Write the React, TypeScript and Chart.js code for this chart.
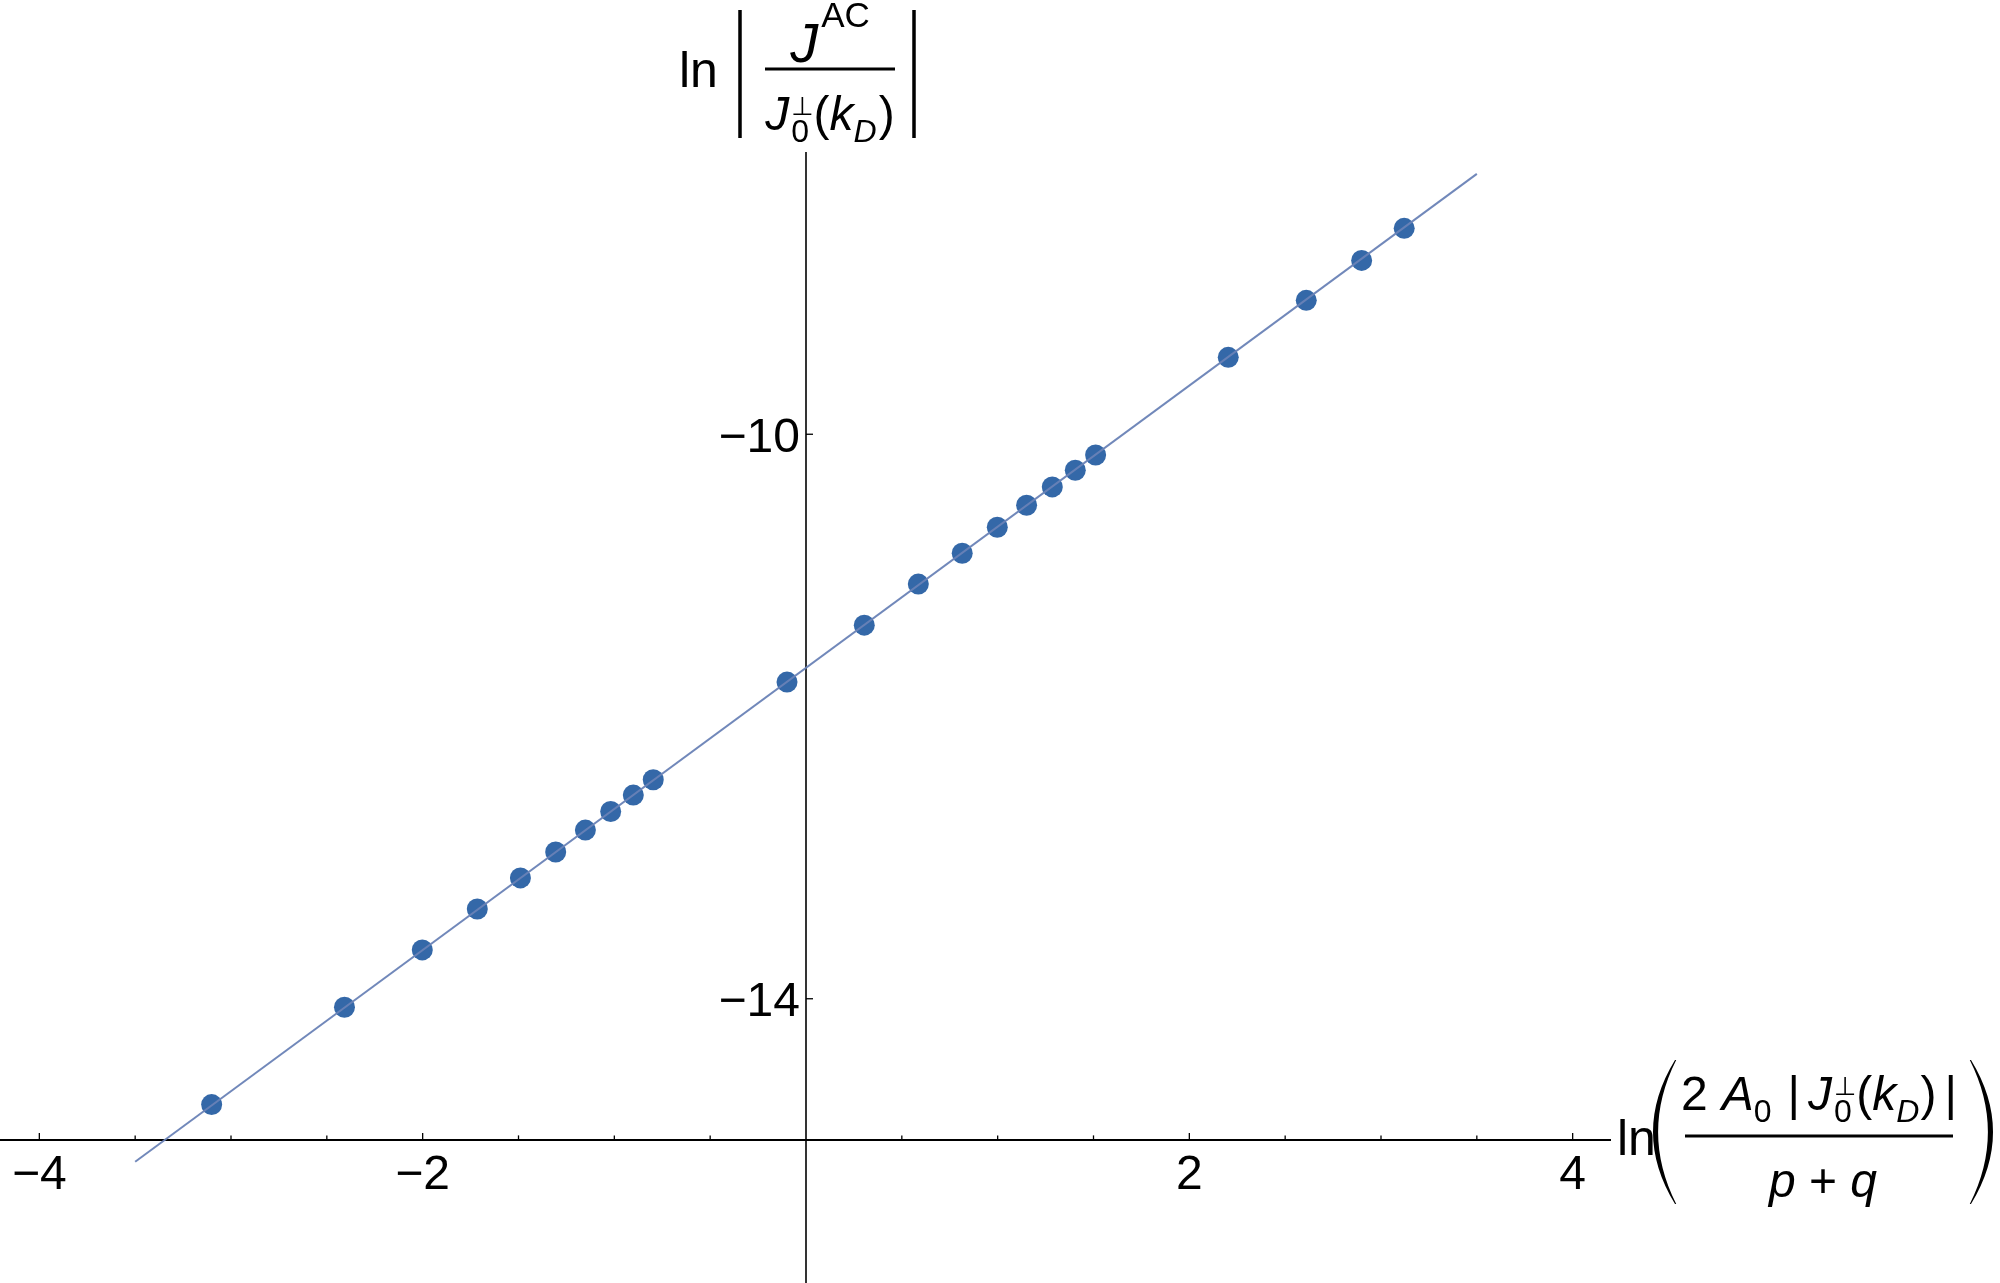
import React, { useEffect, useRef } from "react";
import { Chart, registerables } from "chart.js";

Chart.register(...registerables);

// ---- data ----
const X_VALUES = [-3.101, -2.408, -2.002, -1.715, -1.49, -1.306, -1.151, -1.019, -0.901, -0.797, -0.099, 0.304, 0.586, 0.815, 0.998, 1.151, 1.285, 1.405, 1.511, 2.203, 2.61, 2.899, 3.121];
const Y_VALUES = [-14.75, -14.06, -13.654, -13.364, -13.144, -12.96, -12.805, -12.673, -12.557, -12.448, -11.756, -11.353, -11.062, -10.843, -10.659, -10.503, -10.373, -10.255, -10.147, -9.455, -9.051, -8.768, -8.541];
const FIT_X = [-3.5, 3.5];
const FIT_Y = [-15.155, -8.155];

const X_RANGE = [-4.2, 4.2];
const Y_RANGE = [-16, -8];
const X_AXIS_AT = -15;
const X_AXIS_END = 4.2;
const X_LABEL_TICKS = [-4, -2, 2, 4];
const X_TICK_LABELS = ["−4", "−2", "2", "4"];
const X_MINOR_TICKS = [-4, -3.5, -3, -2.5, -2, -1.5, -1, -0.5, 0.5, 1, 1.5, 2, 2.5, 3, 3.5, 4];
const Y_LABEL_TICKS = [-10, -14];
const Y_TICK_LABELS = ["−10", "−14"];

const FONT = '"Liberation Sans", Arial, "DejaVu Sans", sans-serif';
const fnt = (s: number, it = false) => `${it ? "italic " : ""}${s}px ${FONT}`;

type Run = { t: string; it?: boolean; pos?: "base" | "sub" | "sup" | "stack"; t2?: string; gap?: number };

function runWidth(ctx: CanvasRenderingContext2D, r: Run, M: number, S: number) {
  let w = 0;
  if (!r.pos || r.pos === "base") {
    ctx.font = fnt(M, r.it);
    w = ctx.measureText(r.t).width;
  } else if (r.pos === "stack") {
    ctx.font = fnt(S * 0.8, false);
    const a = ctx.measureText(r.t).width;
    ctx.font = fnt(S, false);
    const b = ctx.measureText(r.t2 || "").width;
    w = Math.max(a, b);
  } else {
    ctx.font = fnt(S, r.it);
    w = ctx.measureText(r.t).width;
  }
  return w + (r.gap || 0);
}

function drawRuns(ctx: CanvasRenderingContext2D, runs: Run[], cx: number, base: number, M: number, S: number) {
  const widths = runs.map((r) => runWidth(ctx, r, M, S));
  const total = widths.reduce((a, b) => a + b, 0);
  let x = cx - total / 2;
  ctx.textAlign = "left";
  ctx.textBaseline = "alphabetic";
  runs.forEach((r, i) => {
    const w = widths[i];
    if (!r.pos || r.pos === "base") {
      ctx.font = fnt(M, r.it);
      ctx.fillText(r.t, x, base);
    } else if (r.pos === "sub") {
      ctx.font = fnt(S, r.it);
      ctx.fillText(r.t, x, base + 0.26 * M);
    } else if (r.pos === "sup") {
      ctx.font = fnt(S, r.it);
      ctx.fillText(r.t, x, base - 0.62 * M);
    } else {
      ctx.font = fnt(S * 0.8, false);
      const a = ctx.measureText(r.t).width;
      ctx.fillText(r.t, x + (w - (r.gap || 0) - a) / 2, base - 0.32 * M);
      ctx.font = fnt(S, false);
      ctx.fillText(r.t2 || "", x, base + 0.26 * M);
    }
    x += w;
  });
  return total;
}

function paren(ctx: CanvasRenderingContext2D, xOuter: number, xEnd: number, y0: number, y1: number, thick: number) {
  const mid = (y0 + y1) / 2;
  const cOut = 2 * xOuter - xEnd;
  const dir = Math.sign(xEnd - xOuter);
  ctx.beginPath();
  ctx.moveTo(xEnd, y0);
  ctx.quadraticCurveTo(cOut, mid, xEnd, y1);
  ctx.lineTo(xEnd + dir * 1.2, y1);
  ctx.quadraticCurveTo(cOut + dir * 2 * thick, mid, xEnd + dir * 1.2, y0);
  ctx.closePath();
  ctx.fill();
}

const axesPlugin = {
  id: "mmaAxes",
  beforeDatasetsDraw(chart: any) {
    const { ctx, chartArea, scales } = chart;
    const x = scales.x;
    const y = scales.y;
    const x0 = x.getPixelForValue(0);
    const yA = y.getPixelForValue(X_AXIS_AT);
    ctx.save();
    ctx.strokeStyle = "#000";
    ctx.lineWidth = 2;
    ctx.beginPath();
    ctx.moveTo(0, yA);
    ctx.lineTo(x.getPixelForValue(X_AXIS_END), yA);
    ctx.stroke();
    ctx.lineWidth = 1.6;
    ctx.beginPath();
    ctx.moveTo(x0, chartArea.top);
    ctx.lineTo(x0, chart.height);
    ctx.stroke();
    ctx.lineWidth = 1.3;
    for (const v of X_MINOR_TICKS) {
      const px = x.getPixelForValue(v);
      const len = X_LABEL_TICKS.includes(v) ? 7 : 4.5;
      ctx.beginPath();
      ctx.moveTo(px, yA);
      ctx.lineTo(px, yA - len);
      ctx.stroke();
    }
    for (const v of Y_LABEL_TICKS) {
      const py = y.getPixelForValue(v);
      ctx.beginPath();
      ctx.moveTo(x0, py);
      ctx.lineTo(x0 + 7, py);
      ctx.stroke();
    }
    ctx.fillStyle = "#000";
    ctx.font = fnt(48);
    ctx.textAlign = "center";
    ctx.textBaseline = "alphabetic";
    X_LABEL_TICKS.forEach((v, i) => {
      ctx.fillText(X_TICK_LABELS[i], x.getPixelForValue(v), yA + 49);
    });
    ctx.textAlign = "right";
    Y_LABEL_TICKS.forEach((v, i) => {
      ctx.fillText(Y_TICK_LABELS[i], x0 - 6, y.getPixelForValue(v) + 17.5);
    });
    ctx.restore();
  },
};

const titlePlugin = {
  id: "mmaTitles",
  afterDraw(chart: any) {
    const { ctx, chartArea, scales } = chart;
    const ax = scales.x.getPixelForValue(0);
    const ay = scales.y.getPixelForValue(X_AXIS_AT);
    const M = 48;
    const S = 32;
    ctx.save();
    ctx.fillStyle = "#000";
    ctx.strokeStyle = "#000";

    // ---- y-axis title: ln | J^AC / J0⊥(kD) |
    ctx.font = fnt(50);
    ctx.textAlign = "left";
    ctx.textBaseline = "alphabetic";
    ctx.fillText("ln", ax - 127, 87);
    ctx.lineWidth = 3.5;
    ctx.beginPath();
    ctx.moveTo(ax - 66, 10);
    ctx.lineTo(ax - 66, 138);
    ctx.moveTo(ax + 108, 10);
    ctx.lineTo(ax + 108, 138);
    ctx.stroke();
    ctx.lineWidth = 3;
    ctx.beginPath();
    ctx.moveTo(ax - 41, 69);
    ctx.lineTo(ax + 89, 69);
    ctx.stroke();
    const ycx = ax + 24;
    drawRuns(ctx, [{ t: "J", it: true, gap: 3 }, { t: "AC", pos: "sup" }], ycx, 62, 56, 35);
    drawRuns(
      ctx,
      [
        { t: "J", it: true, gap: 2 },
        { t: "⊥", pos: "stack", t2: "0" },
        { t: "(" },
        { t: "k", it: true },
        { t: "D", it: true, pos: "sub", gap: 2 },
        { t: ")" },
      ],
      ycx,
      130,
      M,
      S
    );

    // ---- x-axis title: ln( 2 A0 |J0⊥(kD)| / (p+q) )
    const lx = chartArea.right + 6;
    ctx.font = fnt(50);
    ctx.textAlign = "left";
    ctx.fillText("ln", lx, ay + 15);
    paren(ctx, lx + 36, lx + 58, ay - 80, ay + 64, 4.5);
    paren(ctx, lx + 376, lx + 354, ay - 80, ay + 64, 4.5);
    ctx.lineWidth = 3;
    ctx.beginPath();
    ctx.moveTo(lx + 68, ay - 4);
    ctx.lineTo(lx + 336, ay - 4);
    ctx.stroke();
    const xcx = lx + 202;
    drawRuns(
      ctx,
      [
        { t: "2", gap: 14 },
        { t: "A", it: true },
        { t: "0", pos: "sub", gap: 16 },
        { t: "|", gap: 8 },
        { t: "J", it: true, gap: 2 },
        { t: "⊥", pos: "stack", t2: "0" },
        { t: "(" },
        { t: "k", it: true },
        { t: "D", it: true, pos: "sub", gap: 1 },
        { t: ")", gap: 8 },
        { t: "|" },
      ],
      xcx,
      ay - 30,
      M,
      S
    );
    drawRuns(ctx, [{ t: "p", it: true }, { t: " + " }, { t: "q", it: true }], xcx + 4, ay + 57, M, S);
    ctx.restore();
  },
};

export default function App() {
  const ref = useRef<HTMLCanvasElement | null>(null);
  useEffect(() => {
    if (!ref.current) return;
    const chart = new Chart(ref.current, {
      type: "scatter",
      data: {
        datasets: [
          {
            label: "fit",
            data: FIT_X.map((v, i) => ({ x: v, y: FIT_Y[i] })),
            showLine: true,
            borderColor: "rgba(105,130,182,0.95)",
            backgroundColor: "rgba(105,130,182,0.95)",
            borderWidth: 2,
            pointRadius: 0,
            order: 0,
          },
          {
            label: "data",
            data: X_VALUES.map((v, i) => ({ x: v, y: Y_VALUES[i] })),
            backgroundColor: "#3468A8",
            borderColor: "#3468A8",
            pointBorderWidth: 0,
            pointRadius: 10.5,
            order: 1,
          },
        ],
      },
      options: {
        responsive: false,
        animation: false,
        layout: { autoPadding: false, padding: { left: 1, right: 389, top: 152, bottom: 2 } },
        scales: {
          x: { type: "linear", min: X_RANGE[0], max: X_RANGE[1], display: false },
          y: { type: "linear", min: Y_RANGE[0], max: Y_RANGE[1], display: false },
        },
        plugins: { legend: { display: false }, tooltip: { enabled: false } },
        events: [],
      } as any,
      plugins: [axesPlugin, titlePlugin],
    });
    return () => chart.destroy();
  }, []);
  return (
    <div style={{ position: "absolute", left: 0, top: 0, width: 2000, height: 1283, background: "#fff" }}>
      <canvas ref={ref} width={2000} height={1283} style={{ display: "block", width: 2000, height: 1283 }} />
    </div>
  );
}
